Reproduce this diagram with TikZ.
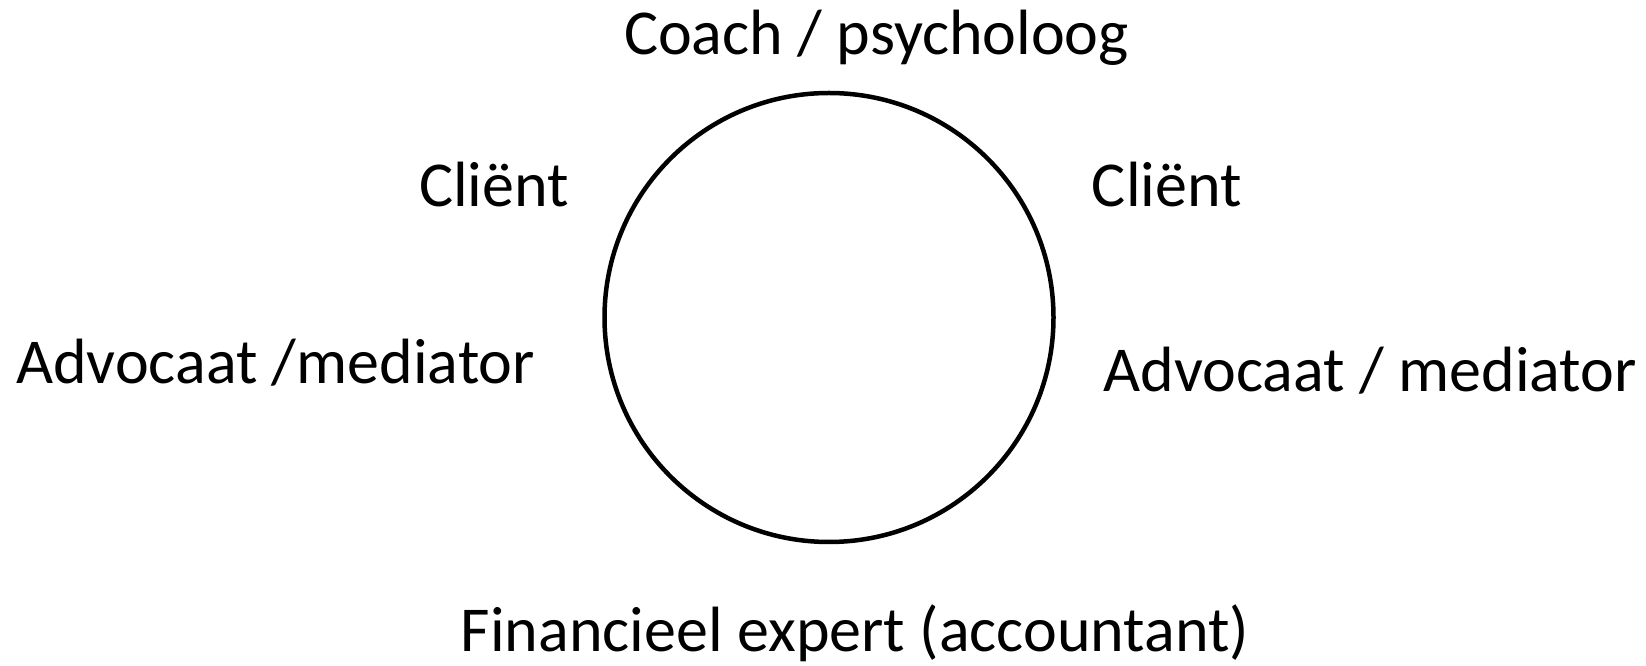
\documentclass[tikz,border=0pt]{standalone}
\usepackage{fontspec}
\setmainfont{Carlito}
\begin{document}
\begin{tikzpicture}[x=1pt,y=1pt,
  lbl/.style={anchor=base,inner sep=0pt,font=\fontsize{64}{70}\selectfont}]
\useasboundingbox (0,0) rectangle (1646,666);
\node[draw,circle,line width=4.5pt,minimum size=449pt,inner sep=0pt] (c) at (829,348.5) {};
\node[lbl] (top) at (876.5,611.4) {Coach / psycholoog};
\node[lbl] (cl) at (494,459.2) {Cliënt};
\node[lbl] (cr) at (1166.8,459.2) {Cliënt};
\node[lbl] (al) at (275.5,282) {Advocaat /mediator};
\node[lbl] (ar) at (1370,274.5) {Advocaat / mediator};
\node[lbl] (bot) at (855,14) {Financieel expert (accountant)};
\end{tikzpicture}
\end{document}
